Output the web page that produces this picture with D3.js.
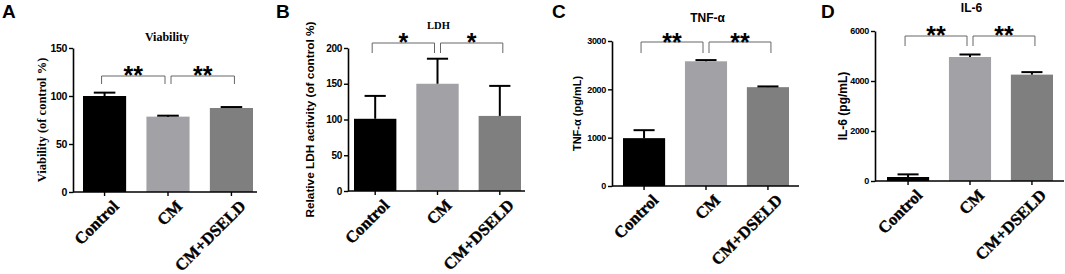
<!DOCTYPE html>
<html>
<head>
<meta charset="utf-8">
<script src="https://cdn.jsdelivr.net/npm/d3@7"></script>
<style>
  body { margin: 0; background: #fff; }
  svg { display: block; }
</style>
</head>
<body>
<script>
// groups shared by all four panels
const groups = ["Control", "CM", "CM+DSELD"];
const barColors = ["#000000", "#a2a2a6", "#7f7f7f"];

// A: viability
const viabilityMean = [100, 78.5, 87.5];
const viabilityErr = [3.5, 1, 1];
const viabilityTicks = [0, 50, 100, 150];

// B: LDH
const ldhMean = [101, 150, 105];
const ldhErr = [32, 35, 42];
const ldhTicks = [0, 50, 100, 150, 200];

// C: TNF-a
const tnfMean = [990, 2580, 2045];
const tnfErr = [165, 25, 15];
const tnfTicks = [0, 1000, 2000, 3000];

// D: IL-6
const il6Mean = [160, 4960, 4255];
const il6Err = [105, 100, 100];
const il6Ticks = [0, 2000, 4000, 6000];

// significance marks: [from group, to group, label]
const viabilitySig = [[0, 1, "**"], [1, 2, "**"]];
const ldhSig = [[0, 1, "*"], [1, 2, "*"]];
const tnfSig = [[0, 1, "**"], [1, 2, "**"]];
const il6Sig = [[0, 1, "**"], [1, 2, "**"]];

const W = 1065, H = 274;
const serif = "'Liberation Serif', 'Times New Roman', serif";
const sans = "'Liberation Sans', Arial, sans-serif";

const svg = d3.select("body").append("svg")
  .attr("width", W)
  .attr("height", H);

const panels = [
  {
    letter: "A", letterX: 2, title: "Viability", titleFont: serif, titleSize: 12, titleY: 41,
    ylabel: "Viability (of control %)", ylabelFont: serif, ylabelSize: 12.5, ylabelX: 42,
    mean: viabilityMean, err: viabilityErr, ticks: viabilityTicks, sig: viabilitySig, tickSize: 10.5,
    axisX: 73, axisEnd: 257, barL: 83, barR: 253, yTop: 48, yBot: 192,
    bracketY: 76, bracketLeg: 8, starY: 70
  },
  {
    letter: "B", letterX: 276, title: "LDH", titleFont: serif, titleSize: 10.5, titleY: 29,
    ylabel: "Relative LDH activity (of control %)", ylabelFont: sans, ylabelSize: 11.8, ylabelX: 310,
    mean: ldhMean, err: ldhErr, ticks: ldhTicks, sig: ldhSig, tickSize: 10,
    axisX: 348, axisEnd: 525, barL: 354, barR: 521, yTop: 48, yBot: 191,
    bracketY: 43, bracketLeg: 10, starY: 37
  },
  {
    letter: "C", letterX: 552, title: "TNF-\u03b1", titleFont: sans, titleSize: 12, titleY: 22,
    ylabel: "TNF-\u03b1 (pg/mL)", ylabelFont: sans, ylabelSize: 11, ylabelX: 577,
    mean: tnfMean, err: tnfErr, ticks: tnfTicks, sig: tnfSig, tickSize: 9,
    axisX: 612, axisEnd: 799, barL: 623, barR: 789, yTop: 41, yBot: 186,
    bracketY: 42, bracketLeg: 11, starY: 37
  },
  {
    letter: "D", letterX: 821, title: "IL-6", titleFont: sans, titleSize: 12, titleY: 12,
    ylabel: "IL-6 (pg/mL)", ylabelFont: sans, ylabelSize: 12, ylabelX: 843,
    mean: il6Mean, err: il6Err, ticks: il6Ticks, sig: il6Sig, tickSize: 9,
    axisX: 875, axisEnd: 1064, barL: 887, barR: 1053, yTop: 31, yBot: 181,
    bracketY: 36, bracketLeg: 10, starY: 30
  }
];

panels.forEach(p => {
  const g = svg.append("g");

  const x = d3.scaleBand()
    .domain(groups)
    .range([p.barL, p.barR])
    .paddingInner(0.32)
    .paddingOuter(0);

  const y = d3.scaleLinear()
    .domain([0, d3.max(p.ticks)])
    .range([p.yBot, p.yTop]);

  // panel letter
  g.append("text")
    .attr("x", p.letterX)
    .attr("y", 18)
    .attr("font-family", sans)
    .attr("font-weight", "bold")
    .attr("font-size", 19)
    .text(p.letter);

  // title
  g.append("text")
    .attr("x", (p.axisX + p.axisEnd) / 2 + 2)
    .attr("y", p.titleY)
    .attr("text-anchor", "middle")
    .attr("font-family", p.titleFont)
    .attr("font-weight", "bold")
    .attr("font-size", p.titleSize)
    .text(p.title);

  // bars
  g.selectAll(".bar")
    .data(groups)
    .enter().append("rect")
    .attr("class", "bar")
    .attr("x", d => x(d))
    .attr("width", x.bandwidth())
    .attr("y", (d, i) => y(p.mean[i]))
    .attr("height", (d, i) => p.yBot - y(p.mean[i]))
    .attr("fill", (d, i) => barColors[i]);

  // error bars (upper half only)
  const capW = x.bandwidth() / 2;
  const eb = g.selectAll(".err")
    .data(groups)
    .enter().append("g")
    .attr("class", "err")
    .attr("stroke", "#000")
    .attr("stroke-width", 2);
  eb.append("line")
    .attr("x1", d => x(d) + x.bandwidth() / 2)
    .attr("x2", d => x(d) + x.bandwidth() / 2)
    .attr("y1", (d, i) => y(p.mean[i]))
    .attr("y2", (d, i) => y(p.mean[i] + p.err[i]));
  eb.append("line")
    .attr("x1", d => x(d) + x.bandwidth() / 2 - capW / 2)
    .attr("x2", d => x(d) + x.bandwidth() / 2 + capW / 2)
    .attr("y1", (d, i) => y(p.mean[i] + p.err[i]))
    .attr("y2", (d, i) => y(p.mean[i] + p.err[i]));

  // y axis
  const yAxis = g.append("g")
    .attr("transform", `translate(${p.axisX},0)`)
    .call(d3.axisLeft(y).tickValues(p.ticks).tickFormat(d3.format("d"))
      .tickSize(4).tickSizeOuter(0).tickPadding(2));
  yAxis.select(".domain").attr("stroke-width", 1.6);
  yAxis.selectAll(".tick line").attr("stroke-width", 1.4);
  yAxis.selectAll(".tick text")
    .attr("font-family", sans)
    .attr("font-weight", "bold")
    .attr("font-size", p.tickSize)
    .attr("letter-spacing", -0.3);

  // x axis
  g.append("line")
    .attr("x1", p.axisX)
    .attr("x2", p.axisEnd)
    .attr("y1", p.yBot)
    .attr("y2", p.yBot)
    .attr("stroke", "#000")
    .attr("stroke-width", 1.6);
  const xt = g.selectAll(".xtick")
    .data(groups)
    .enter().append("g")
    .attr("class", "xtick")
    .attr("transform", d => `translate(${x(d) + x.bandwidth() / 2},${p.yBot})`);
  xt.append("line")
    .attr("y2", 4)
    .attr("stroke", "#000")
    .attr("stroke-width", 1.4);
  xt.append("text")
    .attr("transform", "translate(7,7) rotate(-45)")
    .attr("text-anchor", "end")
    .attr("dy", "0.7em")
    .attr("font-family", serif)
    .attr("font-weight", "bold")
    .attr("font-size", 16.5)
    .attr("stroke", "#000")
    .attr("stroke-width", 0.4)
    .text(d => d);

  // y label
  g.append("text")
    .attr("transform", `translate(${p.ylabelX},${(p.yTop + p.yBot) / 2}) rotate(-90)`)
    .attr("text-anchor", "middle")
    .attr("dy", "0.35em")
    .attr("font-family", p.ylabelFont)
    .attr("font-weight", "bold")
    .attr("font-size", p.ylabelSize)
    .text(p.ylabel);

  // significance brackets
  p.sig.forEach(([a, b, label], k) => {
    const cx = gi => x(groups[gi]) + x.bandwidth() / 2;
    const x1 = cx(a) + (k === 0 ? -3 : 3);
    const x2 = cx(b) + (k === 0 ? -3 : 3);
    g.append("path")
      .attr("d", `M${x1},${p.bracketY + p.bracketLeg}V${p.bracketY}H${x2}V${p.bracketY + p.bracketLeg}`)
      .attr("fill", "none")
      .attr("stroke", "#666")
      .attr("stroke-width", 1);
    g.append("text")
      .attr("x", (x1 + x2) / 2)
      .attr("y", p.starY + 14)
      .attr("text-anchor", "middle")
      .attr("font-family", sans)
      .attr("font-weight", "bold")
      .attr("font-size", 25)
      .text(label);
  });
});
</script>
</body>
</html>
